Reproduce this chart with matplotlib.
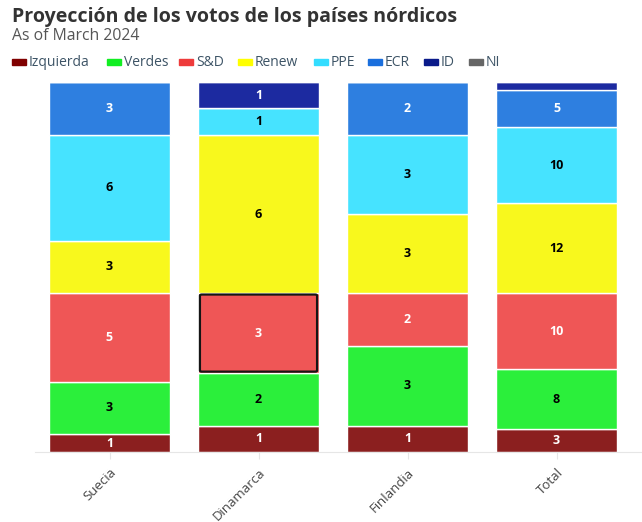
import numpy as np
import matplotlib.pyplot as plt
from matplotlib.patches import Rectangle, FancyBboxPatch

plt.rcParams['font.family'] = ['Open Sans', 'DejaVu Sans']

# data
countries = ['Suecia', 'Dinamarca', 'Finlandia', 'Total']
groups = ['Izquierda', 'Verdes', 'S&D', 'Renew', 'PPE', 'ECR', 'ID', 'NI']
seats = {
    'Izquierda': [1, 1, 1, 3],
    'Verdes':    [3, 2, 3, 8],
    'S&D':       [5, 3, 2, 10],
    'Renew':     [3, 6, 3, 12],
    'PPE':       [6, 1, 3, 10],
    'ECR':       [3, 0, 2, 5],
    'ID':        [0, 1, 0, 1],
    'NI':        [0, 0, 0, 0],
}
bar_colors = ['#8b1f1f', '#2bef3b', '#ef5656', '#f8f81d', '#46e3ff', '#2e7fe0', '#1c2aa0', '#6b6b6b']
legend_colors = ['#800000', '#11ee22', '#ee3b3b', '#ffff00', '#33ddff', '#1a6fdd', '#0a1a8a', '#666666']
text_colors = ['white', 'black', 'white', 'black', 'black', 'white', 'white', 'white']

fig = plt.figure(figsize=(6.42, 5.22), dpi=100)
W, H = 642, 522
ax = fig.add_axes([35 / W, 1 - 452 / H, 596 / W, 370 / H])

x = np.arange(len(countries))
totals = np.sum([seats[g] for g in groups], axis=0)
bottom = np.zeros(len(countries))
for g, bc, tc in zip(groups, bar_colors, text_colors):
    vals = np.array(seats[g], dtype=float)
    share = vals / totals
    ax.bar(x, share, bottom=bottom, width=0.81, color=bc, edgecolor='white', linewidth=1.0)
    for i, v in enumerate(vals):
        if v > 0 and share[i] > 0.03:
            ax.text(x[i], bottom[i] + share[i] / 2, f'{int(v)}', ha='center', va='center',
                    color=tc, fontsize=9, fontweight='bold')
    bottom += share

# highlighted segment (Dinamarca S&D)
i = countries.index('Dinamarca')
b0 = (seats['Izquierda'][i] + seats['Verdes'][i]) / totals[i]
h0 = seats['S&D'][i] / totals[i]
ax.add_patch(FancyBboxPatch((x[i] - 0.405 + 0.012, b0 + 0.003), 0.81 - 0.024, h0 - 0.006,
                            boxstyle='round,pad=0,rounding_size=0.012', mutation_aspect=0.25,
                            fill=False, edgecolor='#151515', linewidth=1.6, zorder=5))

ax.set_xlim(-0.5, 3.5)
ax.set_ylim(0, 1)
ax.set_yticks([])
for s in ['top', 'right', 'left']:
    ax.spines[s].set_visible(False)
ax.spines['bottom'].set_color('#e6e6e6')
ax.spines['bottom'].set_bounds(-0.5, 3.6)
ax.set_xticks(x)
ax.set_xticklabels(countries, rotation=45, ha='right', rotation_mode='anchor',
                   fontsize=9.5, color='#444444')
ax.tick_params(axis='x', length=5, color='#e6e6e6', pad=5)

# titles
fig.text(12 / W, 1 - 17 / H, 'Proyección de los votos de los países nórdicos', fontsize=14.1,
         fontweight='bold', color='#333333', va='center', ha='left')
fig.text(12 / W, 1 - 36 / H, 'As of March 2024', fontsize=11.3, color='#555555',
         va='center', ha='left')

# legend
leg_x = [12, 107, 179, 238, 314, 368, 424, 469]
for lx, g, lc in zip(leg_x, groups, legend_colors):
    fig.patches.append(Rectangle((lx / W, 1 - 65 / H), 14 / W, 6 / H, color=lc,
                                 transform=fig.transFigure))
    fig.text((lx + 17) / W, 1 - 62.5 / H, g, fontsize=10, color='#3d5466',
             va='center', ha='left')

fig.savefig('out.png', dpi=100)
